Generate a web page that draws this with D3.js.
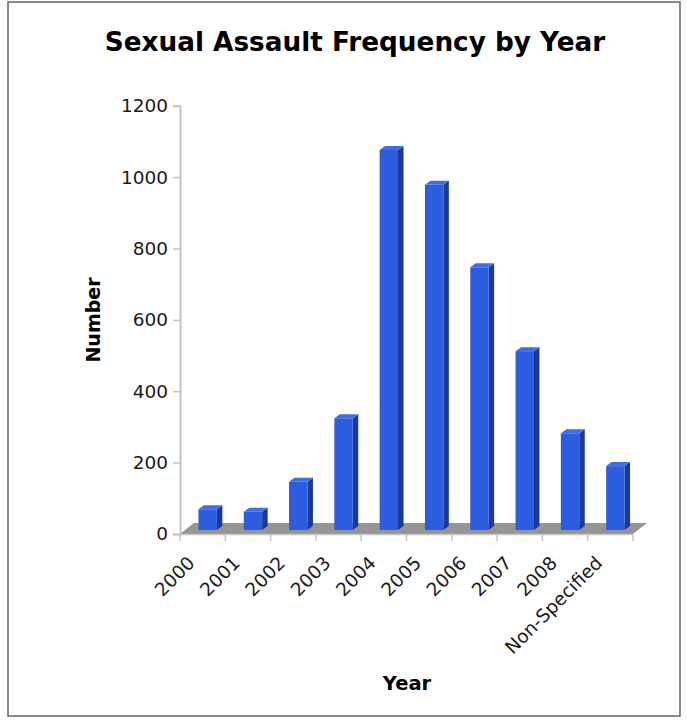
<!DOCTYPE html>
<html><head><meta charset="utf-8">
<script src="https://cdn.jsdelivr.net/npm/d3@7"></script>
<style>body{margin:0;background:#fff}svg{display:block}</style>
</head><body>
<script>
const categories = ["2000","2001","2002","2003","2004","2005","2006","2007","2008","Non-Specified"];
const values = [58, 51, 135, 313, 1065, 967, 736, 501, 271, 179];
const yTicks = [0, 200, 400, 600, 800, 1000, 1200];
const title = "Sexual Assault Frequency by Year";
const xTitle = "Year";
const yTitle = "Number";

const W = 687, H = 721;
const svg = d3.select("body").append("svg").attr("width", W).attr("height", H);
const font = "Verdana, 'DejaVu Sans', sans-serif";

svg.append("rect").attr("x", 8).attr("y", 2).attr("width", 672).attr("height", 714)
  .attr("fill", "#fff").attr("stroke", "#666").attr("stroke-width", 1.5);

const x = d3.scaleBand().domain(categories).range([180, 633]).padding(0);
const y = d3.scaleLinear().domain([0, 1200]).range([534, 105.7]);

const depth = [14, -11];   // floor depth
const shift = [5, -4];     // bar position within depth
const side = [5.5, -4];    // bar own depth
const bw = 18.4;

// floor
const x0 = x.range()[0], x1 = x.range()[1], y0 = y(0);
svg.append("polygon")
  .attr("points", [[x0, y0], [x0 + depth[0], y0 + depth[1]], [x1 + depth[0], y0 + depth[1]], [x1, y0]].map(p => p.join(",")).join(" "))
  .attr("fill", "#959595");

// bars
const g = svg.append("g");
categories.forEach((c, i) => {
  const cx = x(c) + x.bandwidth() / 2 + shift[0];
  const left = cx - bw / 2, right = cx + bw / 2;
  const top = y(values[i]) + shift[1], bot = y0 + shift[1];
  g.append("polygon").attr("points", [[right, bot], [right + side[0], bot + side[1]], [right + side[0], top + side[1]], [right, top]].map(p => p.join(",")).join(" "))
    .attr("fill", "#1b3a98");
  g.append("polygon").attr("points", [[left, top], [left + side[0], top + side[1]], [right + side[0], top + side[1]], [right, top]].map(p => p.join(",")).join(" "))
    .attr("fill", "#3f6de6");
  g.append("rect").attr("x", left).attr("y", top).attr("width", bw).attr("height", bot - top)
    .attr("fill", "#2c5cdf");
});

// y axis
const yAxis = svg.append("g").attr("transform", `translate(${x0},0)`)
  .call(d3.axisLeft(y).tickValues(yTicks).tickSize(7).tickPadding(5).tickFormat(d3.format("d")));
yAxis.select(".domain").attr("stroke", "#c4c4c4").attr("stroke-width", 2);
yAxis.selectAll(".tick line").attr("stroke", "#c4c4c4").attr("stroke-width", 1.5);
yAxis.selectAll("text").attr("font-family", font).attr("font-size", 18.5).attr("fill", "#1a1a1a");

// x axis
const xAxis = svg.append("g").attr("transform", `translate(0,${y0})`)
  .call(d3.axisBottom(x).tickSize(0).tickFormat(""));
xAxis.select(".domain").attr("stroke", "#c4c4c4").attr("stroke-width", 1.5);
xAxis.selectAll(".tick").remove();
const bounds = categories.map(c => x(c)).concat([x1]);
xAxis.selectAll("line.bt").data(bounds).enter().append("line")
  .attr("x1", d => d).attr("x2", d => d).attr("y1", 0).attr("y2", 7)
  .attr("stroke", "#c4c4c4").attr("stroke-width", 1.5);

svg.append("g").selectAll("text").data(categories).enter().append("text")
  .attr("transform", d => `translate(${x(d) + x.bandwidth() / 2 - 16},${y0 + 21}) rotate(-45)`)
  .attr("text-anchor", "end").attr("dy", "0.7em")
  .attr("font-family", font).attr("font-size", 18.5).attr("fill", "#1a1a1a")
  .text(d => d);

// titles
svg.append("text").attr("x", 355).attr("y", 51).attr("text-anchor", "middle")
  .attr("font-family", font).attr("font-weight", "bold").attr("font-size", 26.3).attr("fill", "#000")
  .text(title);
svg.append("text").attr("x", 407).attr("y", 690).attr("text-anchor", "middle")
  .attr("font-family", font).attr("font-weight", "bold").attr("font-size", 19.5).attr("fill", "#000")
  .text(xTitle);
svg.append("text").attr("transform", "translate(100,320) rotate(-90)").attr("text-anchor", "middle")
  .attr("font-family", font).attr("font-weight", "bold").attr("font-size", 19).attr("fill", "#000")
  .text(yTitle);
</script>
</body></html>
